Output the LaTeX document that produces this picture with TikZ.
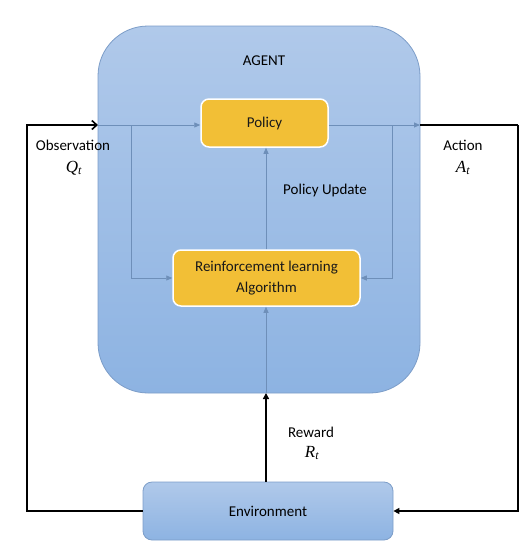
\documentclass[tikz,border=0pt]{standalone}
\usepackage{fontspec}
\setmainfont{Carlito}
\newfontfamily\varfont{Liberation Serif}
\newcommand{\mvar}[2]{{\varfont\itshape\fontsize{17}{18}\selectfont #1\textsubscript{#2}}}
\usetikzlibrary{arrows.meta}
\definecolor{agtop}{HTML}{B0C9EA}
\definecolor{agbot}{HTML}{8DB3E2}
\definecolor{agedge}{HTML}{7C9DC8}
\definecolor{gold}{HTML}{F2BF36}
\definecolor{bline}{HTML}{6E8FB9}
\tikzset{
  agentbox/.style={draw=agedge, line width=0.8pt, rounded corners=50pt, top color=agtop, bottom color=agbot},
  goldbox/.style={draw=white, line width=1.5pt, fill=gold, rounded corners=8pt, align=center, text=black!90, font=\fontsize{15}{21}\selectfont},
  envbox/.style={draw=agedge, line width=0.8pt, rounded corners=9pt, top color=agtop, bottom color=agbot, font=\fontsize{15}{18}\selectfont},
  lbl/.style={font=\fontsize{15}{18}\selectfont, align=center},
  inner/.style={draw=bline, line width=0.8pt},
  innerarr/.style={inner, -{Triangle[length=6pt,width=5pt]}},
  outer/.style={draw=black, line width=1.6pt},
  outerarr/.style={outer, -{Straight Barb[length=5pt,width=9pt]}},
  outertri/.style={outer, -{Triangle[length=6pt,width=6pt]}}
}
\begin{document}
\begin{tikzpicture}[x=1pt,y=-1pt]
\useasboundingbox (0,0) rectangle (532,554);
% agent
\node[agentbox, minimum width=322pt, minimum height=367pt, inner sep=0pt] (agent) at (259,209.5) {};
\node[lbl] (agentlbl) at (264,61) {AGENT};
% boxes
\node[goldbox, minimum width=127pt, minimum height=48pt] (policy) at (264.5,123) {Policy};
\node[goldbox, minimum width=187pt, minimum height=56pt] (rl) at (266.5,278) {Reinforcement learning\\Algorithm};
\node[envbox, minimum width=250pt, minimum height=58pt] (env) at (268,511) {Environment};
% coordinates
\coordinate (inL) at (98,125);
\coordinate (brL) at (131,125);
\coordinate (outR) at (420,125);
\coordinate (brR) at (392,125);
\coordinate (bot) at (266,393);
\coordinate (cL) at (27,125);
\coordinate (cR) at (518,125);
% inner blue connectors
\draw[innerarr] (inL) -- (policy.west |- inL);
\draw[innerarr] (brL) |- (rl.west);
\draw[innerarr] (policy.east |- outR) -- (outR);
\draw[innerarr] (brR) |- (rl.east);
\draw[innerarr] (rl.north -| 266,0) -- (policy.south -| 266,0);
\draw[innerarr] (bot) -- (rl.south -| 266,0);
% outer black connectors
\draw[outerarr] (env.west) -| (cL) -- (inL);
\draw[outer] (outR) -- (cR);
\draw[outertri] (cR) |- (env.east);
\draw[outertri] (env.north -| 266,0) -- (bot);
% labels
\node[lbl] (obs) at (73,145) {Observation};
\node[lbl] (obsq) at (74,168) {\mvar{Q}{t}};
\node[lbl] (act) at (463,145) {Action};
\node[lbl] (acta) at (463,168) {\mvar{A}{t}};
\node[lbl] (pu) at (325,190) {Policy Update};
\node[lbl] (rew) at (311,432) {Reward};
\node[lbl] (rewr) at (312,453) {\mvar{R}{t}};
\end{tikzpicture}
\end{document}
